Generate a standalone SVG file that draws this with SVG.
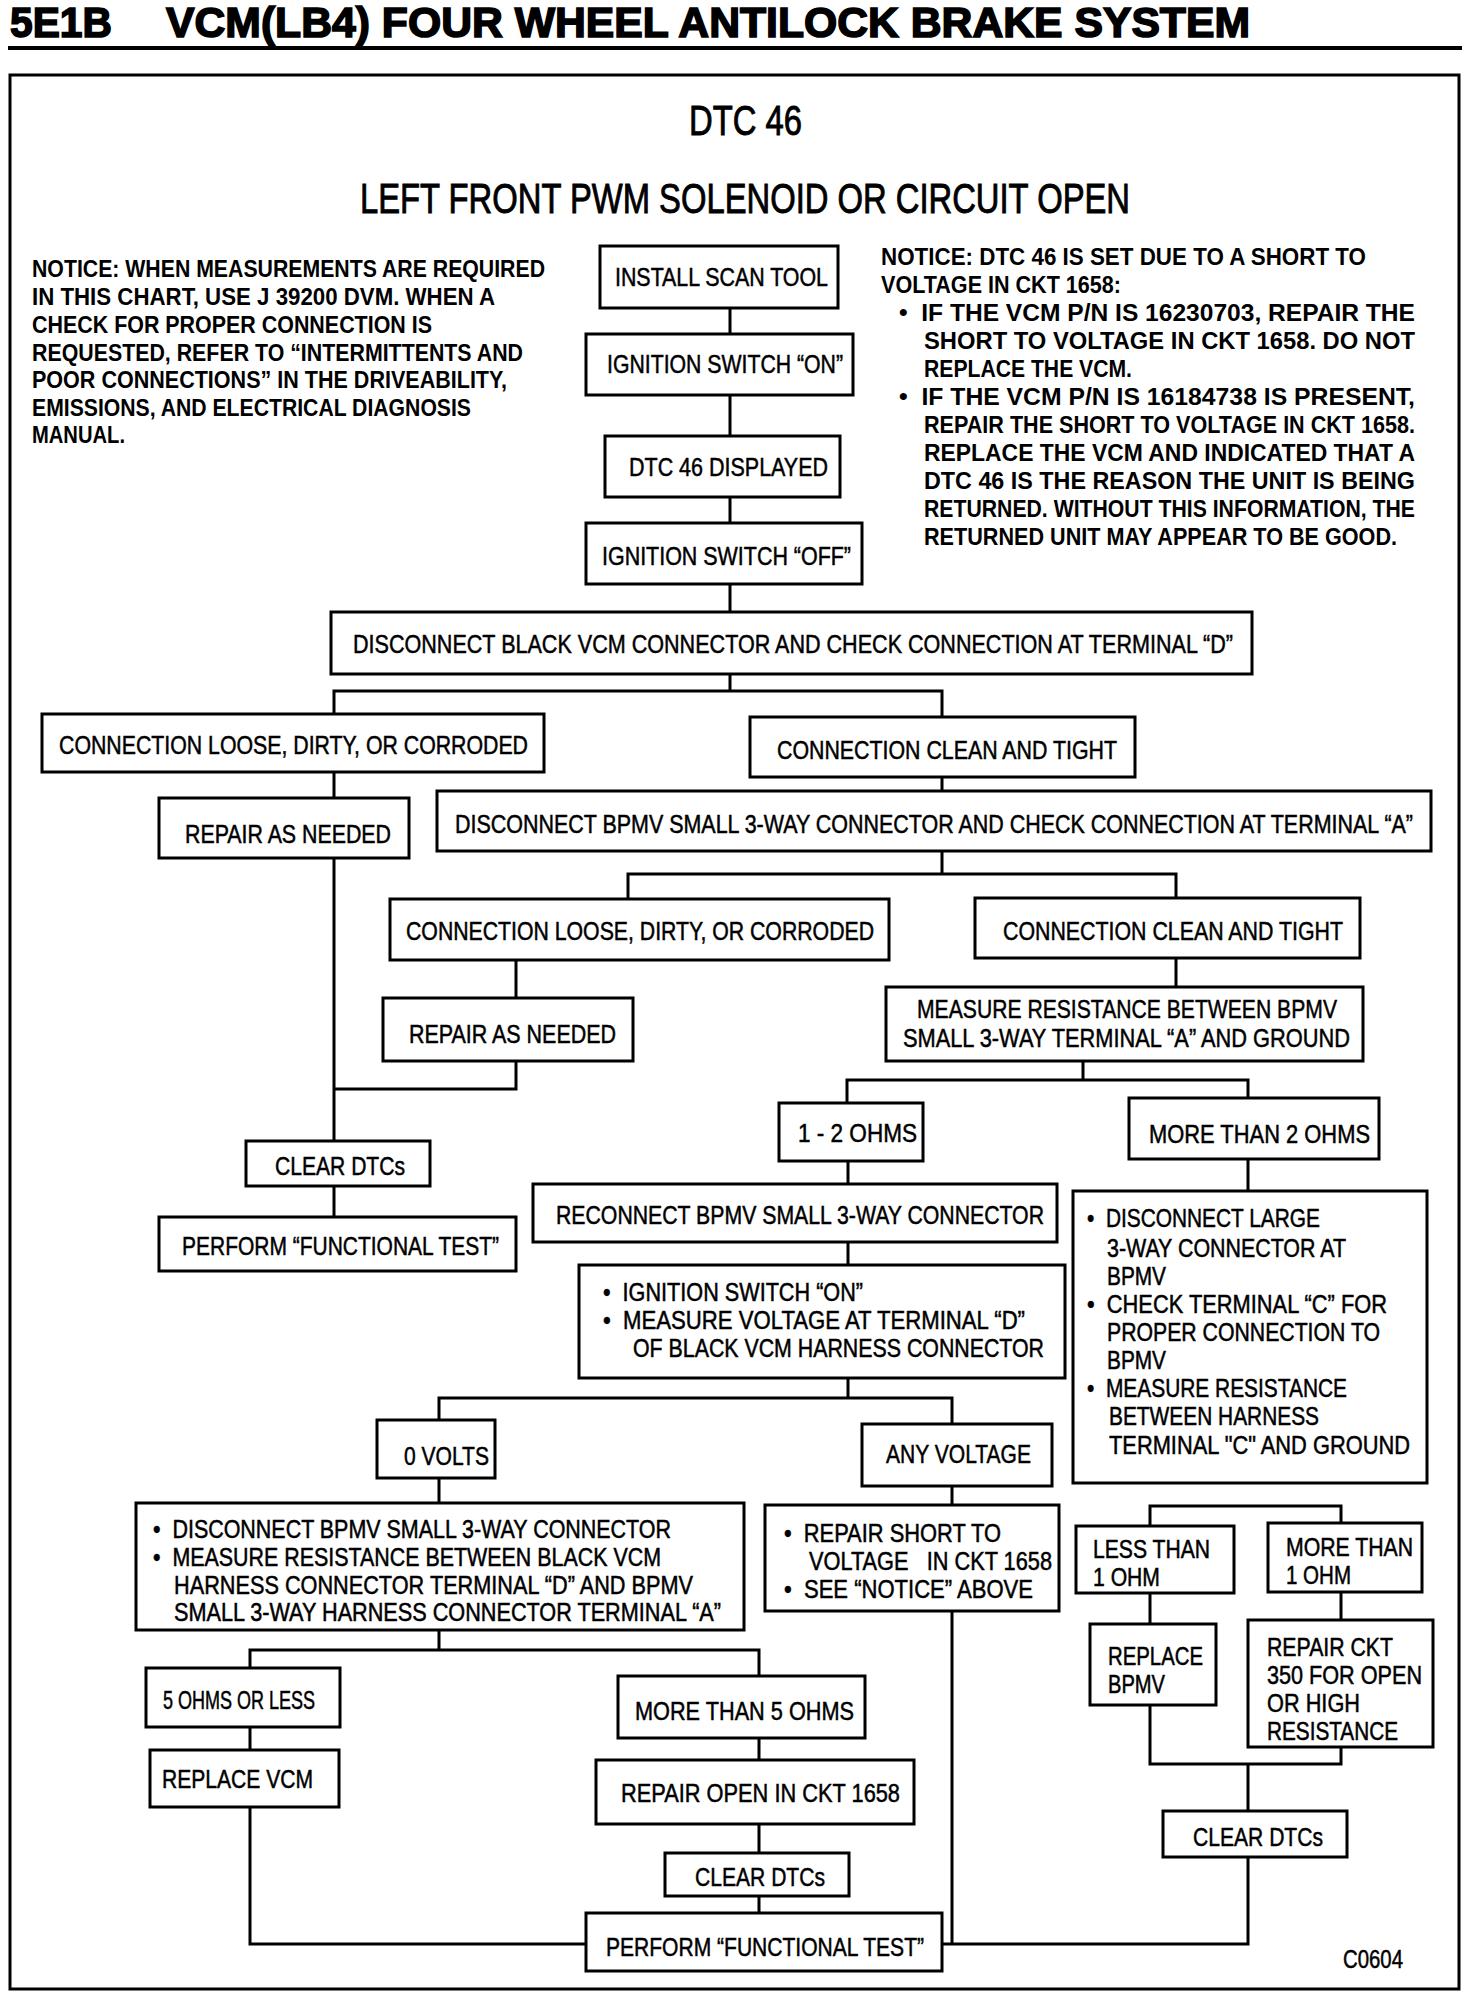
<svg xmlns="http://www.w3.org/2000/svg" width="1472" height="1996" viewBox="0 0 1472 1996">
<style>
.b{fill:#fff;stroke:#000;stroke-width:3}
.c{fill:none;stroke:#000;stroke-width:3}
text{font-family:'Liberation Sans Narrow','Liberation Sans',Arial,sans-serif;fill:#000}
.t{font-size:26px;stroke:#000;stroke-width:0.5}
.m{font-size:25px}
.n{font-size:23px;font-weight:bold}
.h{font-size:43px;font-weight:bold;stroke:#000;stroke-width:1.6}
.s{font-size:42px;stroke:#000;stroke-width:0.9}
</style>
<rect width="1472" height="1996" fill="#fff"/>
<g id="header">
<text class="h" x="10" y="37" textLength="102" lengthAdjust="spacingAndGlyphs">5E1B</text>
<text class="h" x="166" y="37" textLength="1084" lengthAdjust="spacingAndGlyphs">VCM(LB4) FOUR WHEEL ANTILOCK BRAKE SYSTEM</text>
<rect x="8" y="46" width="1454" height="4" fill="#000"/>
<rect class="c" x="10" y="75" width="1449" height="1914"/>
<text class="s" x="689" y="135" textLength="113" lengthAdjust="spacingAndGlyphs">DTC 46</text>
<text class="s" x="360" y="213" textLength="770" lengthAdjust="spacingAndGlyphs">LEFT FRONT PWM SOLENOID OR CIRCUIT OPEN</text>
</g>
<g id="notice-left">
<text class="n" x="32" y="277" textLength="513" lengthAdjust="spacingAndGlyphs">NOTICE: WHEN MEASUREMENTS ARE REQUIRED</text>
<text class="n" x="32" y="305" textLength="463" lengthAdjust="spacingAndGlyphs">IN THIS CHART, USE J 39200 DVM. WHEN A</text>
<text class="n" x="32" y="333" textLength="400" lengthAdjust="spacingAndGlyphs">CHECK FOR PROPER CONNECTION IS</text>
<text class="n" x="32" y="361" textLength="491" lengthAdjust="spacingAndGlyphs">REQUESTED, REFER TO “INTERMITTENTS AND</text>
<text class="n" x="32" y="388" textLength="475" lengthAdjust="spacingAndGlyphs">POOR CONNECTIONS” IN THE DRIVEABILITY,</text>
<text class="n" x="32" y="416" textLength="439" lengthAdjust="spacingAndGlyphs">EMISSIONS, AND ELECTRICAL DIAGNOSIS</text>
<text class="n" x="32" y="443" textLength="93" lengthAdjust="spacingAndGlyphs">MANUAL.</text>
</g>
<g id="notice-right">
<text class="n" x="881" y="265" textLength="485" lengthAdjust="spacingAndGlyphs">NOTICE: DTC 46 IS SET DUE TO A SHORT TO</text>
<text class="n" x="881" y="293" textLength="240" lengthAdjust="spacingAndGlyphs">VOLTAGE IN CKT 1658:</text>
<text class="n" x="899" y="321" textLength="516" lengthAdjust="spacingAndGlyphs">•&#160;&#160;IF THE VCM P/N IS 16230703, REPAIR THE</text>
<text class="n" x="924" y="349" textLength="491" lengthAdjust="spacingAndGlyphs">SHORT TO VOLTAGE IN CKT 1658. DO NOT</text>
<text class="n" x="924" y="377" textLength="208" lengthAdjust="spacingAndGlyphs">REPLACE THE VCM.</text>
<text class="n" x="899" y="405" textLength="516" lengthAdjust="spacingAndGlyphs">•&#160;&#160;IF THE VCM P/N IS 16184738 IS PRESENT,</text>
<text class="n" x="924" y="433" textLength="491" lengthAdjust="spacingAndGlyphs">REPAIR THE SHORT TO VOLTAGE IN CKT 1658.</text>
<text class="n" x="924" y="461" textLength="491" lengthAdjust="spacingAndGlyphs">REPLACE THE VCM AND INDICATED THAT A</text>
<text class="n" x="924" y="489" textLength="491" lengthAdjust="spacingAndGlyphs">DTC 46 IS THE REASON THE UNIT IS BEING</text>
<text class="n" x="924" y="517" textLength="491" lengthAdjust="spacingAndGlyphs">RETURNED. WITHOUT THIS INFORMATION, THE</text>
<text class="n" x="924" y="545" textLength="473" lengthAdjust="spacingAndGlyphs">RETURNED UNIT MAY APPEAR TO BE GOOD.</text>
</g>
<g id="connectors">
<path class="c" d="M730 308V334M730 395V436M730 497V523M730 584V612M730 674V691M334 714V691H942V717"/>
<path class="c" d="M334 772V798M334 858V1141M942 777V791M942 851V874M628 899V874H1176V898"/>
<path class="c" d="M516 960V998M516 1061V1089H334M334 1186V1217M1176 958V987M1083 1061V1080M847 1103V1080H1248V1098"/>
<path class="c" d="M848 1161V1184M1248 1159V1191M848 1242V1265M848 1378V1398M439 1420V1398H952V1424"/>
<path class="c" d="M439 1478V1503M952 1486V1505M952 1611V1944M942 1944H1248V1857"/>
<path class="c" d="M439 1630V1650M250 1668V1650H759V1676M250 1727V1750M250 1807V1944H586M759 1738V1760M759 1824V1853M759 1896V1913"/>
<path class="c" d="M1150 1526V1506H1341V1523M1150 1593V1624M1341 1592V1620M1150 1705V1764H1341V1747M1248 1764V1811"/>
</g>
<g id="install-scan-tool"><rect class="b" x="600" y="246" width="238" height="62"/><text class="t" x="615" y="286" textLength="213" lengthAdjust="spacingAndGlyphs">INSTALL SCAN TOOL</text></g>
<g id="ignition-on"><rect class="b" x="586" y="334" width="267" height="61"/><text class="t" x="607" y="373" textLength="236" lengthAdjust="spacingAndGlyphs">IGNITION SWITCH “ON”</text></g>
<g id="dtc-displayed"><rect class="b" x="605" y="436" width="235" height="61"/><text class="t" x="629" y="476" textLength="199" lengthAdjust="spacingAndGlyphs">DTC 46 DISPLAYED</text></g>
<g id="ignition-off"><rect class="b" x="586" y="523" width="276" height="61"/><text class="t" x="602" y="565" textLength="249" lengthAdjust="spacingAndGlyphs">IGNITION SWITCH “OFF”</text></g>
<g id="disconnect-black"><rect class="b" x="331" y="612" width="921" height="62"/><text class="t" x="353" y="653" textLength="880" lengthAdjust="spacingAndGlyphs">DISCONNECT BLACK VCM CONNECTOR AND CHECK CONNECTION AT TERMINAL “D”</text></g>
<g id="loose-1"><rect class="b" x="42" y="714" width="502" height="58"/><text class="t" x="59" y="754" textLength="469" lengthAdjust="spacingAndGlyphs">CONNECTION LOOSE, DIRTY, OR CORRODED</text></g>
<g id="clean-1"><rect class="b" x="750" y="717" width="385" height="60"/><text class="t" x="777" y="759" textLength="340" lengthAdjust="spacingAndGlyphs">CONNECTION CLEAN AND TIGHT</text></g>
<g id="repair-1"><rect class="b" x="159" y="798" width="250" height="60"/><text class="t" x="185" y="843" textLength="206" lengthAdjust="spacingAndGlyphs">REPAIR AS NEEDED</text></g>
<g id="disconnect-bpmv"><rect class="b" x="437" y="791" width="994" height="60"/><text class="t" x="455" y="833" textLength="958" lengthAdjust="spacingAndGlyphs">DISCONNECT BPMV SMALL 3-WAY CONNECTOR AND CHECK CONNECTION AT TERMINAL “A”</text></g>
<g id="loose-2"><rect class="b" x="390" y="899" width="499" height="61"/><text class="t" x="406" y="940" textLength="468" lengthAdjust="spacingAndGlyphs">CONNECTION LOOSE, DIRTY, OR CORRODED</text></g>
<g id="clean-2"><rect class="b" x="975" y="898" width="385" height="60"/><text class="t" x="1003" y="940" textLength="340" lengthAdjust="spacingAndGlyphs">CONNECTION CLEAN AND TIGHT</text></g>
<g id="repair-2"><rect class="b" x="383" y="998" width="250" height="63"/><text class="t" x="409" y="1043" textLength="207" lengthAdjust="spacingAndGlyphs">REPAIR AS NEEDED</text></g>
<g id="measure-a-ground"><rect class="b" x="886" y="987" width="477" height="74"/><text class="t" x="917" y="1018" textLength="420" lengthAdjust="spacingAndGlyphs">MEASURE RESISTANCE BETWEEN BPMV</text><text class="t" x="903" y="1047" textLength="447" lengthAdjust="spacingAndGlyphs">SMALL 3-WAY TERMINAL “A” AND GROUND</text></g>
<g id="one-two-ohms"><rect class="b" x="779" y="1103" width="144" height="58"/><text class="t" x="798" y="1142" textLength="119" lengthAdjust="spacingAndGlyphs">1 - 2 OHMS</text></g>
<g id="more-2-ohms"><rect class="b" x="1129" y="1098" width="250" height="61"/><text class="t" x="1149" y="1143" textLength="221" lengthAdjust="spacingAndGlyphs">MORE THAN 2 OHMS</text></g>
<g id="clear-1"><rect class="b" x="246" y="1141" width="184" height="45"/><text class="t" x="275" y="1175" textLength="130" lengthAdjust="spacingAndGlyphs">CLEAR DTCs</text></g>
<g id="reconnect"><rect class="b" x="533" y="1184" width="524" height="58"/><text class="t" x="556" y="1224" textLength="488" lengthAdjust="spacingAndGlyphs">RECONNECT BPMV SMALL 3-WAY CONNECTOR</text></g>
<g id="perform-1"><rect class="b" x="159" y="1217" width="357" height="54"/><text class="t" x="182" y="1255" textLength="317" lengthAdjust="spacingAndGlyphs">PERFORM “FUNCTIONAL TEST”</text></g>
<g id="measure-voltage"><rect class="b" x="579" y="1265" width="486" height="113"/>
<text class="t m" x="603" y="1301" textLength="260" lengthAdjust="spacingAndGlyphs">•&#160;&#160;IGNITION SWITCH “ON”</text>
<text class="t m" x="603" y="1329" textLength="422" lengthAdjust="spacingAndGlyphs">•&#160;&#160;MEASURE VOLTAGE AT TERMINAL “D”</text>
<text class="t m" x="633" y="1357" textLength="411" lengthAdjust="spacingAndGlyphs">OF BLACK VCM HARNESS CONNECTOR</text></g>
<g id="large-connector"><rect class="b" x="1073" y="1191" width="354" height="292"/>
<text class="t m" x="1087" y="1227" textLength="233" lengthAdjust="spacingAndGlyphs">•&#160;&#160;DISCONNECT LARGE</text>
<text class="t m" x="1107" y="1257" textLength="239" lengthAdjust="spacingAndGlyphs">3-WAY CONNECTOR AT</text>
<text class="t m" x="1107" y="1285" textLength="59" lengthAdjust="spacingAndGlyphs">BPMV</text>
<text class="t m" x="1087" y="1313" textLength="300" lengthAdjust="spacingAndGlyphs">•&#160;&#160;CHECK TERMINAL “C” FOR</text>
<text class="t m" x="1107" y="1341" textLength="273" lengthAdjust="spacingAndGlyphs">PROPER CONNECTION TO</text>
<text class="t m" x="1107" y="1369" textLength="59" lengthAdjust="spacingAndGlyphs">BPMV</text>
<text class="t m" x="1087" y="1397" textLength="260" lengthAdjust="spacingAndGlyphs">•&#160;&#160;MEASURE RESISTANCE</text>
<text class="t m" x="1109" y="1425" textLength="210" lengthAdjust="spacingAndGlyphs">BETWEEN HARNESS</text>
<text class="t m" x="1109" y="1454" textLength="301" lengthAdjust="spacingAndGlyphs">TERMINAL "C" AND GROUND</text></g>
<g id="zero-volts"><rect class="b" x="377" y="1420" width="118" height="58"/><text class="t" x="404" y="1465" textLength="85" lengthAdjust="spacingAndGlyphs">0 VOLTS</text></g>
<g id="any-voltage"><rect class="b" x="862" y="1424" width="190" height="62"/><text class="t" x="886" y="1463" textLength="145" lengthAdjust="spacingAndGlyphs">ANY VOLTAGE</text></g>
<g id="measure-d-a"><rect class="b" x="136" y="1503" width="608" height="127"/>
<text class="t m" x="153" y="1538" textLength="518" lengthAdjust="spacingAndGlyphs">•&#160;&#160;DISCONNECT BPMV SMALL 3-WAY CONNECTOR</text>
<text class="t m" x="153" y="1566" textLength="508" lengthAdjust="spacingAndGlyphs">•&#160;&#160;MEASURE RESISTANCE BETWEEN BLACK VCM</text>
<text class="t m" x="174" y="1594" textLength="519" lengthAdjust="spacingAndGlyphs">HARNESS CONNECTOR TERMINAL “D” AND BPMV</text>
<text class="t m" x="174" y="1621" textLength="547" lengthAdjust="spacingAndGlyphs">SMALL 3-WAY HARNESS CONNECTOR TERMINAL “A”</text></g>
<g id="repair-short"><rect class="b" x="765" y="1505" width="294" height="106"/>
<text class="t m" x="784" y="1542" textLength="217" lengthAdjust="spacingAndGlyphs">•&#160;&#160;REPAIR SHORT TO</text>
<text class="t m" x="809" y="1570" textLength="243" lengthAdjust="spacingAndGlyphs">VOLTAGE&#160;&#160;&#160;IN CKT 1658</text>
<text class="t m" x="784" y="1598" textLength="249" lengthAdjust="spacingAndGlyphs">•&#160;&#160;SEE “NOTICE” ABOVE</text></g>
<g id="five-or-less"><rect class="b" x="146" y="1668" width="194" height="59"/><text class="t" x="163" y="1709" textLength="152" lengthAdjust="spacingAndGlyphs">5 OHMS OR LESS</text></g>
<g id="more-5-ohms"><rect class="b" x="618" y="1676" width="247" height="62"/><text class="t" x="635" y="1720" textLength="219" lengthAdjust="spacingAndGlyphs">MORE THAN 5 OHMS</text></g>
<g id="replace-vcm"><rect class="b" x="150" y="1750" width="189" height="57"/><text class="t" x="162" y="1788" textLength="151" lengthAdjust="spacingAndGlyphs">REPLACE VCM</text></g>
<g id="repair-open"><rect class="b" x="596" y="1760" width="318" height="64"/><text class="t" x="621" y="1802" textLength="279" lengthAdjust="spacingAndGlyphs">REPAIR OPEN IN CKT 1658</text></g>
<g id="clear-2"><rect class="b" x="665" y="1853" width="184" height="43"/><text class="t" x="695" y="1886" textLength="130" lengthAdjust="spacingAndGlyphs">CLEAR DTCs</text></g>
<g id="perform-2"><rect class="b" x="586" y="1913" width="356" height="58"/><text class="t" x="606" y="1956" textLength="318" lengthAdjust="spacingAndGlyphs">PERFORM “FUNCTIONAL TEST”</text></g>
<g id="less-1-ohm"><rect class="b" x="1076" y="1526" width="158" height="67"/><text class="t m" x="1093" y="1558" textLength="117" lengthAdjust="spacingAndGlyphs">LESS THAN</text><text class="t m" x="1093" y="1586" textLength="67" lengthAdjust="spacingAndGlyphs">1 OHM</text></g>
<g id="more-1-ohm"><rect class="b" x="1268" y="1523" width="154" height="69"/><text class="t m" x="1286" y="1556" textLength="127" lengthAdjust="spacingAndGlyphs">MORE THAN</text><text class="t m" x="1286" y="1584" textLength="65" lengthAdjust="spacingAndGlyphs">1 OHM</text></g>
<g id="replace-bpmv"><rect class="b" x="1090" y="1624" width="126" height="81"/><text class="t m" x="1108" y="1665" textLength="95" lengthAdjust="spacingAndGlyphs">REPLACE</text><text class="t m" x="1108" y="1693" textLength="57" lengthAdjust="spacingAndGlyphs">BPMV</text></g>
<g id="repair-ckt-350"><rect class="b" x="1248" y="1620" width="185" height="127"/>
<text class="t m" x="1267" y="1656" textLength="126" lengthAdjust="spacingAndGlyphs">REPAIR CKT</text>
<text class="t m" x="1267" y="1684" textLength="155" lengthAdjust="spacingAndGlyphs">350 FOR OPEN</text>
<text class="t m" x="1267" y="1712" textLength="93" lengthAdjust="spacingAndGlyphs">OR HIGH</text>
<text class="t m" x="1267" y="1740" textLength="131" lengthAdjust="spacingAndGlyphs">RESISTANCE</text></g>
<g id="clear-3"><rect class="b" x="1163" y="1811" width="184" height="46"/><text class="t" x="1193" y="1846" textLength="130" lengthAdjust="spacingAndGlyphs">CLEAR DTCs</text></g>
<text class="t" x="1343" y="1968" textLength="60" lengthAdjust="spacingAndGlyphs">C0604</text>
</svg>
